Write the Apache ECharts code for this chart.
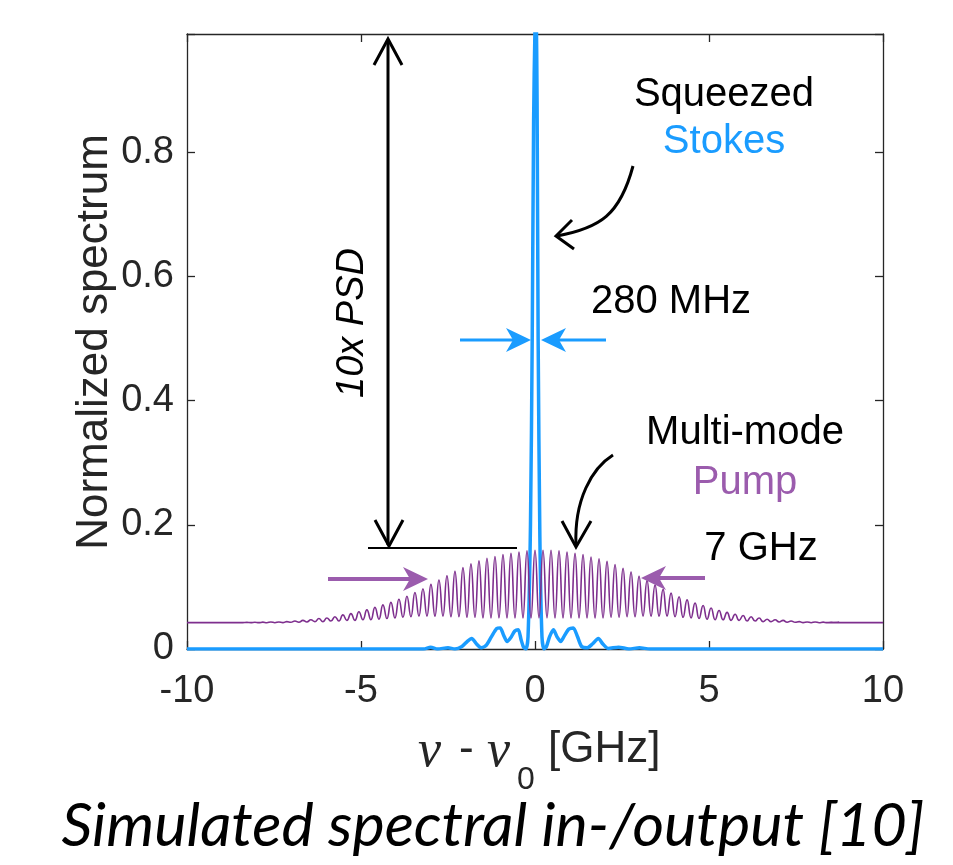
<!DOCTYPE html>
<html>
<head>
<meta charset="utf-8">
<script src="https://cdn.jsdelivr.net/npm/echarts@6.0.0/dist/echarts.min.js"></script>
<style>
html, body { margin: 0; padding: 0; background: #fff; }
#chart { width: 953px; height: 865px; }
</style>
</head>
<body>
<div id="chart"></div>
<script>
// axis range
var xMin = -10, xMax = 10, xStep = 5;
var yMin = 0, yMax = 0.99, yStep = 0.2;

// squeezed Stokes output (blue)
var stokesX = [-10, -3.2, -3.0, -2.8, -2.5, -2.3, -2.1, -1.95, -1.82, -1.68, -1.55, -1.4, -1.25, -1.1, -1.0, -0.9, -0.8, -0.7, -0.58, -0.48,
               -0.4, -0.33, -0.26, -0.2, -0.13, -0.08, -0.04, 0.0, 0.03, 0.06, 0.09, 0.14, 0.2, 0.26, 0.33, 0.42, 0.53, 0.63, 0.74, 0.85,
               0.97, 1.1, 1.22, 1.34, 1.5, 1.65, 1.82, 1.95, 2.1, 2.4, 2.7, 3.0, 3.3, 10];
var stokesY = [0, 0, 0.003, 0, 0.002, 0, 0.004, 0.012, 0.017, 0.008, 0.002, 0.006, 0.02, 0.033, 0.034, 0.022, 0.012, 0.018, 0.029, 0.031,
               0.015, 0.003, 0.0, 0.02, 0.2, 0.5, 0.85, 1.0, 1.02, 0.88, 0.5, 0.18, 0.02, 0.0, 0.004, 0.02, 0.031, 0.02, 0.012, 0.022,
               0.032, 0.034, 0.02, 0.004, 0.002, 0.008, 0.017, 0.008, 0.001, 0.003, 0, 0.002, 0, 0];

// multi-mode pump (purple): flat wings, then crests / troughs of the beating
var pumpWingX = [-10, -8.4, 8.4, 10];
var pumpWingY = [0.0425, 0.0425, 0.0425, 0.0425];
var pumpStart = -8.28;
var pumpHalfPeriod = 0.115;
var pumpCrests = [0.0428, 0.043, 0.0432, 0.0435,
                  0.0435, 0.044, 0.045, 0.046, 0.047, 0.049, 0.050, 0.052, 0.055, 0.057, 0.060, 0.063, 0.067, 0.071, 0.075, 0.080, 0.085,
                  0.091, 0.097, 0.104, 0.111, 0.118, 0.125, 0.131, 0.137, 0.142, 0.146, 0.149, 0.152, 0.154, 0.156, 0.158, 0.159,
                  0.159,
                  0.159, 0.158, 0.156, 0.154, 0.152, 0.148, 0.145, 0.141, 0.136, 0.130, 0.124, 0.117, 0.110, 0.103, 0.096, 0.090,
                  0.084, 0.079, 0.074, 0.070, 0.066, 0.062, 0.059, 0.056, 0.054, 0.052, 0.050, 0.048, 0.047, 0.046, 0.045, 0.044, 0.0435,
                  0.0435, 0.0432, 0.043, 0.0428];
var pumpTroughs = [0.0424, 0.0424, 0.0423, 0.0423,
                   0.0425, 0.043, 0.043, 0.0435, 0.044, 0.044, 0.045, 0.045, 0.046, 0.046, 0.047, 0.047, 0.048, 0.049, 0.050, 0.051, 0.052,
                   0.053, 0.053, 0.053, 0.053, 0.052, 0.052, 0.051, 0.051, 0.050, 0.050, 0.050, 0.050, 0.050, 0.050, 0.050, 0.050,
                   0.050, 0.050, 0.050, 0.050, 0.050, 0.050, 0.050, 0.050, 0.051, 0.051, 0.052, 0.052, 0.053, 0.053, 0.053, 0.053, 0.052,
                   0.051, 0.050, 0.049, 0.048, 0.047, 0.047, 0.046, 0.046, 0.045, 0.045, 0.044, 0.044, 0.0435, 0.043, 0.043, 0.0425,
                   0.0423, 0.0423, 0.0424, 0.0424];

var blue = '#1a9cff';
var purple = '#7e2f8e';
var lightPurple = '#9b5cad';
var axisColor = '#262626';
var sans = '"Liberation Sans", Arial, sans-serif';

var stokesData = stokesX.map(function (x, i) { return [x, stokesY[i]]; });

var pumpData = [[pumpWingX[0], pumpWingY[0]], [pumpWingX[1], pumpWingY[1]]];
for (var i = 0; i < pumpCrests.length + pumpTroughs.length; i++) {
    var x = +(pumpStart + i * pumpHalfPeriod).toFixed(3);
    pumpData.push([x, i % 2 === 0 ? pumpCrests[i / 2] : pumpTroughs[(i - 1) / 2]]);
}
pumpData.push([pumpWingX[2], pumpWingY[2]], [pumpWingX[3], pumpWingY[3]]);

function axisX(pos, labels) {
    return {
        type: 'value', min: xMin, max: xMax, interval: xStep, position: pos,
        axisLine: { show: true, onZero: false, lineStyle: { color: axisColor, width: 1.3 } },
        axisTick: { show: true, inside: true, length: 8, lineStyle: { color: axisColor, width: 1.3 } },
        axisLabel: { show: labels, fontSize: 38, fontFamily: sans, color: axisColor, margin: 24 },
        splitLine: { show: false }
    };
}
function axisY(pos, labels) {
    return {
        type: 'value', min: yMin, max: yMax, interval: yStep, position: pos,
        axisLine: { show: true, onZero: false, lineStyle: { color: axisColor, width: 1.3 } },
        axisTick: { show: true, inside: true, length: 8, lineStyle: { color: axisColor, width: 1.3 } },
        axisLabel: {
            show: labels, fontSize: 38, fontFamily: sans, color: axisColor, margin: 13,
            formatter: function (v) { return v > 0.9 ? '' : String(+v.toFixed(1)); }
        },
        splitLine: { show: false }
    };
}

// arrow helpers (pixel layout of the annotations)
function headH(tipX, y, dir, color) {
    // filled head with a notched back, dir = 1 points right, -1 points left
    var back = tipX - dir * 25, notch = tipX - dir * 18;
    return { type: 'polygon', z: 100, shape: { points: [[tipX, y], [back, y - 12], [notch, y], [back, y + 12]] }, style: { fill: color } };
}
function shaft(x1, y1, x2, y2, color, w) {
    return { type: 'line', z: 100, shape: { x1: x1, y1: y1, x2: x2, y2: y2 }, style: { stroke: color, lineWidth: w } };
}
function chevron(pts, color) {
    return { type: 'polyline', z: 100, shape: { points: pts }, style: { stroke: color, lineWidth: 3, fill: null } };
}
function label(text, x, y, color, font) {
    return { type: 'text', z: 100, x: x, y: y,
        style: { text: text, font: font || ('40px ' + sans), fill: color, align: 'center', verticalAlign: 'middle' } };
}

// caption size fitted to its width in the reference
var captionFont = 'italic {s}px Lato, "Open Sans", sans-serif';
var captionText = 'Simulated spectral in-/output [10]';
var ctx = document.createElement('canvas').getContext('2d');
ctx.font = captionFont.replace('{s}', 50);
var captionSize = Math.round(50 * 862 / ctx.measureText(captionText).width);

var graphics = [
    // 10x PSD double arrow
    shaft(388, 41, 388, 545, '#000', 3),
    chevron([[374, 65], [388, 39], [402, 65]], '#000'),
    chevron([[375, 520], [389, 546], [403, 520]], '#000'),
    shaft(368, 548, 517, 548, '#000', 2),
    { type: 'text', z: 100, x: 352, y: 323, rotation: Math.PI / 2,
      style: { text: '10x PSD', font: 'italic 38px ' + sans, fill: '#000', align: 'center', verticalAlign: 'middle' } },

    // Squeezed Stokes
    label('Squeezed', 724, 95, '#000'),
    label('Stokes', 724, 142, blue),
    { type: 'bezierCurve', z: 100, shape: { x1: 633, y1: 166, cpx1: 620, cpy1: 215, cpx2: 600, cpy2: 228, x2: 557, y2: 236 },
      style: { stroke: '#000', lineWidth: 3, fill: null } },
    chevron([[572, 220], [556, 236], [574, 249]], '#000'),

    // 280 MHz width
    label('280 MHz', 671, 302, '#000'),
    shaft(460, 340, 520, 340, blue, 3),
    headH(531, 340, 1, blue),
    shaft(606, 340, 552, 340, blue, 3),
    headH(541, 340, -1, blue),

    // Multi-mode Pump
    label('Multi-mode', 745, 433, '#000'),
    label('Pump', 745, 483, lightPurple),
    { type: 'bezierCurve', z: 100, shape: { x1: 613, y1: 455, cpx1: 592, cpy1: 468, cpx2: 574, cpy2: 500, x2: 576, y2: 545 },
      style: { stroke: '#000', lineWidth: 3, fill: null } },
    chevron([[562, 521], [576, 547], [591, 521]], '#000'),

    // 7 GHz width
    label('7 GHz', 761, 549, '#000'),
    shaft(328, 579, 412, 579, lightPurple, 4),
    headH(428, 579, 1, lightPurple),
    shaft(705, 578, 656, 578, lightPurple, 4),
    headH(641, 578, -1, lightPurple),

    // axis names
    { type: 'text', z: 100, x: 95, y: 342, rotation: Math.PI / 2,
      style: { text: 'Normalized spectrum', font: '44px ' + sans, fill: axisColor, align: 'center', verticalAlign: 'middle' } },
    { type: 'text', z: 100, x: 418, y: 752,
      style: { text: 'ν', font: 'italic 52px "Liberation Serif", serif', fill: axisColor, align: 'left', verticalAlign: 'middle' } },
    { type: 'text', z: 100, x: 459, y: 750,
      style: { text: '-', font: '44px ' + sans, fill: axisColor, align: 'left', verticalAlign: 'middle' } },
    { type: 'text', z: 100, x: 487, y: 752,
      style: { text: 'ν', font: 'italic 52px "Liberation Serif", serif', fill: axisColor, align: 'left', verticalAlign: 'middle' } },
    { type: 'text', z: 100, x: 517, y: 780,
      style: { text: '0', font: '32px ' + sans, fill: axisColor, align: 'left', verticalAlign: 'middle' } },
    { type: 'text', z: 100, x: 548, y: 750,
      style: { text: '[GHz]', font: '44px ' + sans, fill: axisColor, align: 'left', verticalAlign: 'middle' } },

    // caption
    { type: 'text', z: 100, x: 493, y: 826,
      style: { text: captionText, font: captionFont.replace('{s}', captionSize), fill: '#000',
               align: 'center', verticalAlign: 'middle' } }
];

var myChart = echarts.init(document.getElementById('chart'));
myChart.setOption({
    animation: false,
    backgroundColor: '#fff',
    grid: { left: 187, right: 70, top: 34, bottom: 216, containLabel: false },
    xAxis: [axisX('bottom', true), axisX('top', false)],
    yAxis: [axisY('left', true), axisY('right', false)],
    series: [
        {
            name: 'Stokes', type: 'line', data: stokesData, xAxisIndex: 0, yAxisIndex: 0,
            symbol: 'none', smooth: 0.25, z: 3,
            lineStyle: { color: blue, width: 3.5 }
        },
        {
            name: 'Pump', type: 'line', data: pumpData, xAxisIndex: 0, yAxisIndex: 0,
            symbol: 'none', smooth: 0.5, z: 4,
            lineStyle: { color: purple, width: 1.6 }
        }
    ],
    graphic: { elements: graphics }
});
</script>
</body>
</html>
